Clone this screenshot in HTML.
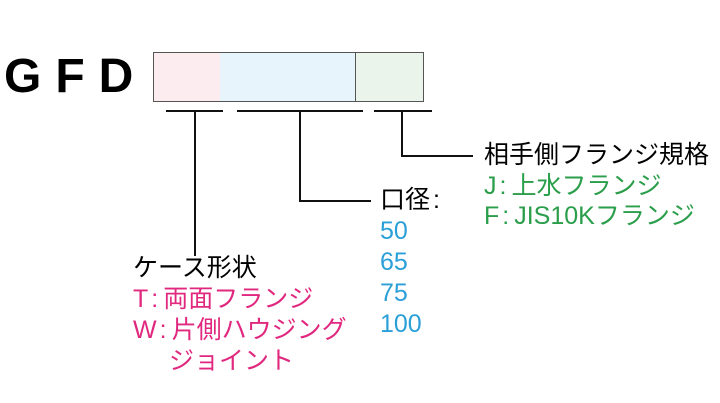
<!DOCTYPE html><html><head><meta charset="utf-8"><style>
body{margin:0;width:720px;height:403px;background:#fff;position:relative;overflow:hidden;font-family:"Liberation Sans","Noto Sans CJK JP",sans-serif}
.t{position:absolute;font-size:25px;line-height:31px;white-space:nowrap}
.c{margin:0 5px 0 3px}
.b{position:absolute;background:#111}
</style></head><body>
<div class="t" style="left:4px;top:47px;font-size:48px;line-height:60px;font-weight:bold;letter-spacing:14px">GFD</div>
<div style="position:absolute;left:153px;top:52px;width:66px;height:48px;background:#fdecef;border:1px solid #555"></div>
<div style="position:absolute;left:220px;top:52px;width:135px;height:48px;background:#e8f4fb;border:1px solid #555;border-left:none"></div>
<div style="position:absolute;left:356px;top:52px;width:67px;height:48px;background:#eaf4ea;border:1px solid #555;border-left:none"></div>
<div class="b" style="left:166px;top:110px;width:57px;height:2px"></div>
<div class="b" style="left:237px;top:110px;width:126px;height:2px"></div>
<div class="b" style="left:374px;top:110px;width:58px;height:2px"></div>
<div class="b" style="left:194px;top:110px;width:2px;height:146px"></div>
<div class="b" style="left:299px;top:110px;width:2px;height:92px"></div>
<div class="b" style="left:299px;top:200px;width:72px;height:2px"></div>
<div class="b" style="left:401px;top:110px;width:2px;height:47px"></div>
<div class="b" style="left:401px;top:155px;width:72px;height:2px"></div>
<div class="t" style="left:484px;top:140px">相手側フランジ規格</div>
<div class="t" style="left:484px;top:171px;color:#2a9e4a">J<span class="c">:</span>上水フランジ</div>
<div class="t" style="left:484px;top:201px;color:#2a9e4a">F<span class="c">:</span>JIS10Kフランジ</div>
<div class="t" style="left:380px;top:185px">口径<span class="c">:</span></div>
<div class="t" style="left:380px;top:216px;color:#2a9fd8">50<br>65<br>75<br>100</div>
<div class="t" style="left:133px;top:253px">ケース形状</div>
<div class="t" style="left:133px;top:284px;color:#e0287f">T<span class="c">:</span>両面フランジ<br>W<span class="c">:</span>片側ハウジング<br><span style="margin-left:36px">ジョイント</span></div>
</body></html>
